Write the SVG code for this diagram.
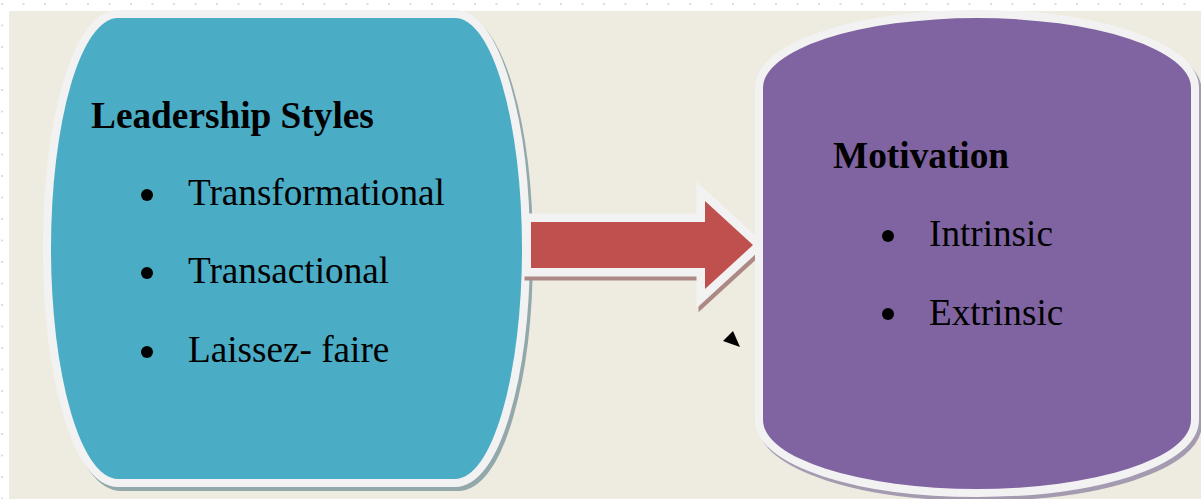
<svg xmlns="http://www.w3.org/2000/svg" width="1201" height="499" viewBox="0 0 1201 499">
<defs>
<pattern id="dots" x="1" y="3" width="21.5" height="21.5" patternUnits="userSpaceOnUse">
<rect x="0" y="0" width="2" height="2" fill="#dcdcdc"/>
</pattern>
</defs>
<style>
.outline{stroke:#f2f2f2;stroke-width:16;paint-order:stroke fill;stroke-linejoin:round}
.title{font-family:"Liberation Serif","Times New Roman",serif;font-weight:bold;font-size:37.3px;fill:#000}
.item{font-family:"Liberation Serif","Times New Roman",serif;font-size:37.2px;fill:#000}
.bullet{fill:#000}
</style>
<rect x="0" y="0" width="1201" height="499" fill="#ffffff"/>
<rect x="0" y="0" width="1201" height="499" fill="url(#dots)"/>
<rect x="9" y="11" width="1192" height="488" fill="#eeece1"/>

<g id="node-leadership">
<path transform="translate(3,4)" d="M118,18 L455,18 A67,230.5 0 0 1 455,479 L118,479 A67,230.5 0 0 1 118,18 Z" fill="#93a8aa" stroke="#93a8aa" stroke-width="16" stroke-linejoin="round"/>
<path class="outline" d="M118,18 L455,18 A67,230.5 0 0 1 455,479 L118,479 A67,230.5 0 0 1 118,18 Z" fill="#4aacc5"/>
<text class="title" x="91" y="128">Leadership Styles</text>
<circle class="bullet" cx="147" cy="195" r="6"/>
<text class="item" x="188" y="205">Transformational</text>
<circle class="bullet" cx="147" cy="273" r="6"/>
<text class="item" x="188" y="283">Transactional</text>
<circle class="bullet" cx="147" cy="352" r="6"/>
<text class="item" x="188" y="362">Laissez- faire</text>
</g>

<g id="connectors">
<path transform="translate(2,4)" d="M531,222 L705,222 L705,201 L753,245 L705,289 L705,268 L531,268 Z" fill="#ad8985" stroke="#ad8985" stroke-width="17" stroke-linejoin="miter"/>
<path d="M531,222 L705,222 L705,201 L753,245 L705,289 L705,268 L531,268 Z" fill="#c0504d" stroke="#f2f2f2" stroke-width="17" stroke-linejoin="miter" paint-order="stroke fill"/>
<path d="M723,341 L733,331 L740,347 Z" fill="#000"/>
</g>

<g id="node-motivation">
<path transform="translate(3,4)" d="M763,88 A214,70 0 0 1 1191,88 L1191,420 A214,69 0 0 1 763,420 Z" fill="#a59bb1" stroke="#a59bb1" stroke-width="16" stroke-linejoin="round"/>
<path class="outline" d="M763,88 A214,70 0 0 1 1191,88 L1191,420 A214,69 0 0 1 763,420 Z" fill="#8064a2"/>
<text class="title" x="833" y="168">Motivation</text>
<circle class="bullet" cx="888" cy="236" r="6"/>
<text class="item" x="929" y="246">Intrinsic</text>
<circle class="bullet" cx="888" cy="314" r="6"/>
<text class="item" x="929" y="325">Extrinsic</text>
</g>
</svg>
